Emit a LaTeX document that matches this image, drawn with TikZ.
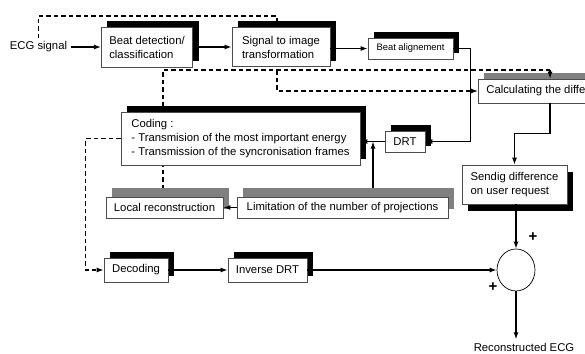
\documentclass[tikz,border=0pt]{standalone}
\usepackage{fontspec}
\setmainfont{Liberation Sans}
\usetikzlibrary{arrows.meta,shadows,shapes.geometric,backgrounds}

\begin{document}
\begin{tikzpicture}[x=1pt,y=-1pt,
  >={Latex[length=7pt,width=5pt]},
  font=\fontsize{11.3}{14}\selectfont,
  block/.style={draw=black!70,fill=white,line width=0.7pt,inner xsep=8pt,inner ysep=2pt,align=left},
  blackshade/.style={block,general shadow={fill=black,shadow xshift=6pt,shadow yshift=6pt}},
  grayshade/.style={block,general shadow={fill=black!50,shadow xshift=6pt,shadow yshift=#1}},
  grayshade/.default=6pt,
  lowshade/.style={block,general shadow={fill=black,shadow xshift=6pt,shadow yshift=-7pt}},
  link/.style={line width=1.2pt},
  dashlink/.style={line width=1.2pt,dash pattern=on 4.5pt off 3pt},
  plus/.style={font=\bfseries\fontsize{15}{15}\selectfont,inner sep=0pt}]
\useasboundingbox (0,0) rectangle (585,353);
\clip (0,0) rectangle (585,353);
\node (ecg) at (38.5,47) {ECG signal};
\node[blackshade,minimum width=90pt,minimum height=40pt] (beat) at (147,47) {Beat detection/\\classification};
\node[blackshade,minimum width=98pt,minimum height=39pt] (sig) at (281,47) {Signal to image\\transformation};
\node[blackshade,minimum width=85pt,minimum height=21pt,font=\fontsize{9.4}{11}\selectfont] (align) at (410.5,48.5) {Beat alignement};
\node[grayshade,anchor=west,minimum height=24pt] (calc) at (478,91) {Calculating the difference};
\node[blackshade,minimum width=239pt,minimum height=53pt] (coding) at (240.5,138.5) {Coding :\\- Transmision of the most important energy\\- Transmission of the syncronisation frames};
\node[blackshade,minimum width=40pt,minimum height=21pt] (drt) at (405,141.5) {DRT};
\node[grayshade=9pt,minimum width=117pt,minimum height=21pt] (local) at (164.5,207.5) {Local reconstruction};
\node[grayshade=9pt,minimum width=211pt,minimum height=21pt] (limit) at (342.5,207.5) {Limitation of the number of projections};
\node[lowshade,minimum width=105pt,minimum height=39pt] (send) at (514.5,184.5) {Sendig difference\\on user request};
\node[blackshade,minimum width=64pt,minimum height=24pt] (dec) at (136,270) {Decoding};
\node[blackshade,minimum width=79pt,minimum height=24pt] (inv) at (267.5,270) {Inverse DRT};
\node[draw,ellipse,line width=0.7pt,minimum width=38pt,minimum height=42pt] (sum) at (516,270) {};
\node[anchor=base] (out) at (524,351) {Reconstructed ECG};
\node[plus] (plusa) at (533,237) {+};
\node[plus] (plusb) at (493,287) {+};
\coordinate (tap) at (163,70);
\coordinate (up) at (373,141.5);
\begin{scope}[on background layer]
\draw[dashlink,->] (ecg.north) |- (277,16) -- (277,91) -- (calc.west);
\draw[dashlink] (tap |- local.north) -- (tap) -- (tap -| calc.north);
\draw[link,->] (up |- limit.north) -- (up);
\end{scope}
\draw[dashlink,->] (tap -| calc.north) -- (calc.north);
\draw[link,->] (ecg) -- (beat);
\draw[link,->] (beat) -- (sig);
\draw[link,->] (sig.east |- align.west) -- (align.west);
\draw[link,->] (align.east) -- ++(17,0) |- (drt.east);
\draw[link,->] (drt.west) -- (coding.east |- drt.west);
\draw[link,->] (limit) -- (local);
\draw[dashlink,->] (coding.west) -- ++(-35,0) |- (dec.west);
\draw[link,->] (dec) -- (inv);
\draw[link,->] (inv) -- (sum);
\draw[link,->] (calc.south) -- ++(0,30) -| (send.north);
\draw[link,->] (sum.north |- send.south) -- (sum.north);
\draw[link,->] (sum.south) -- (sum.south |- out.north);
\end{tikzpicture}
\end{document}
